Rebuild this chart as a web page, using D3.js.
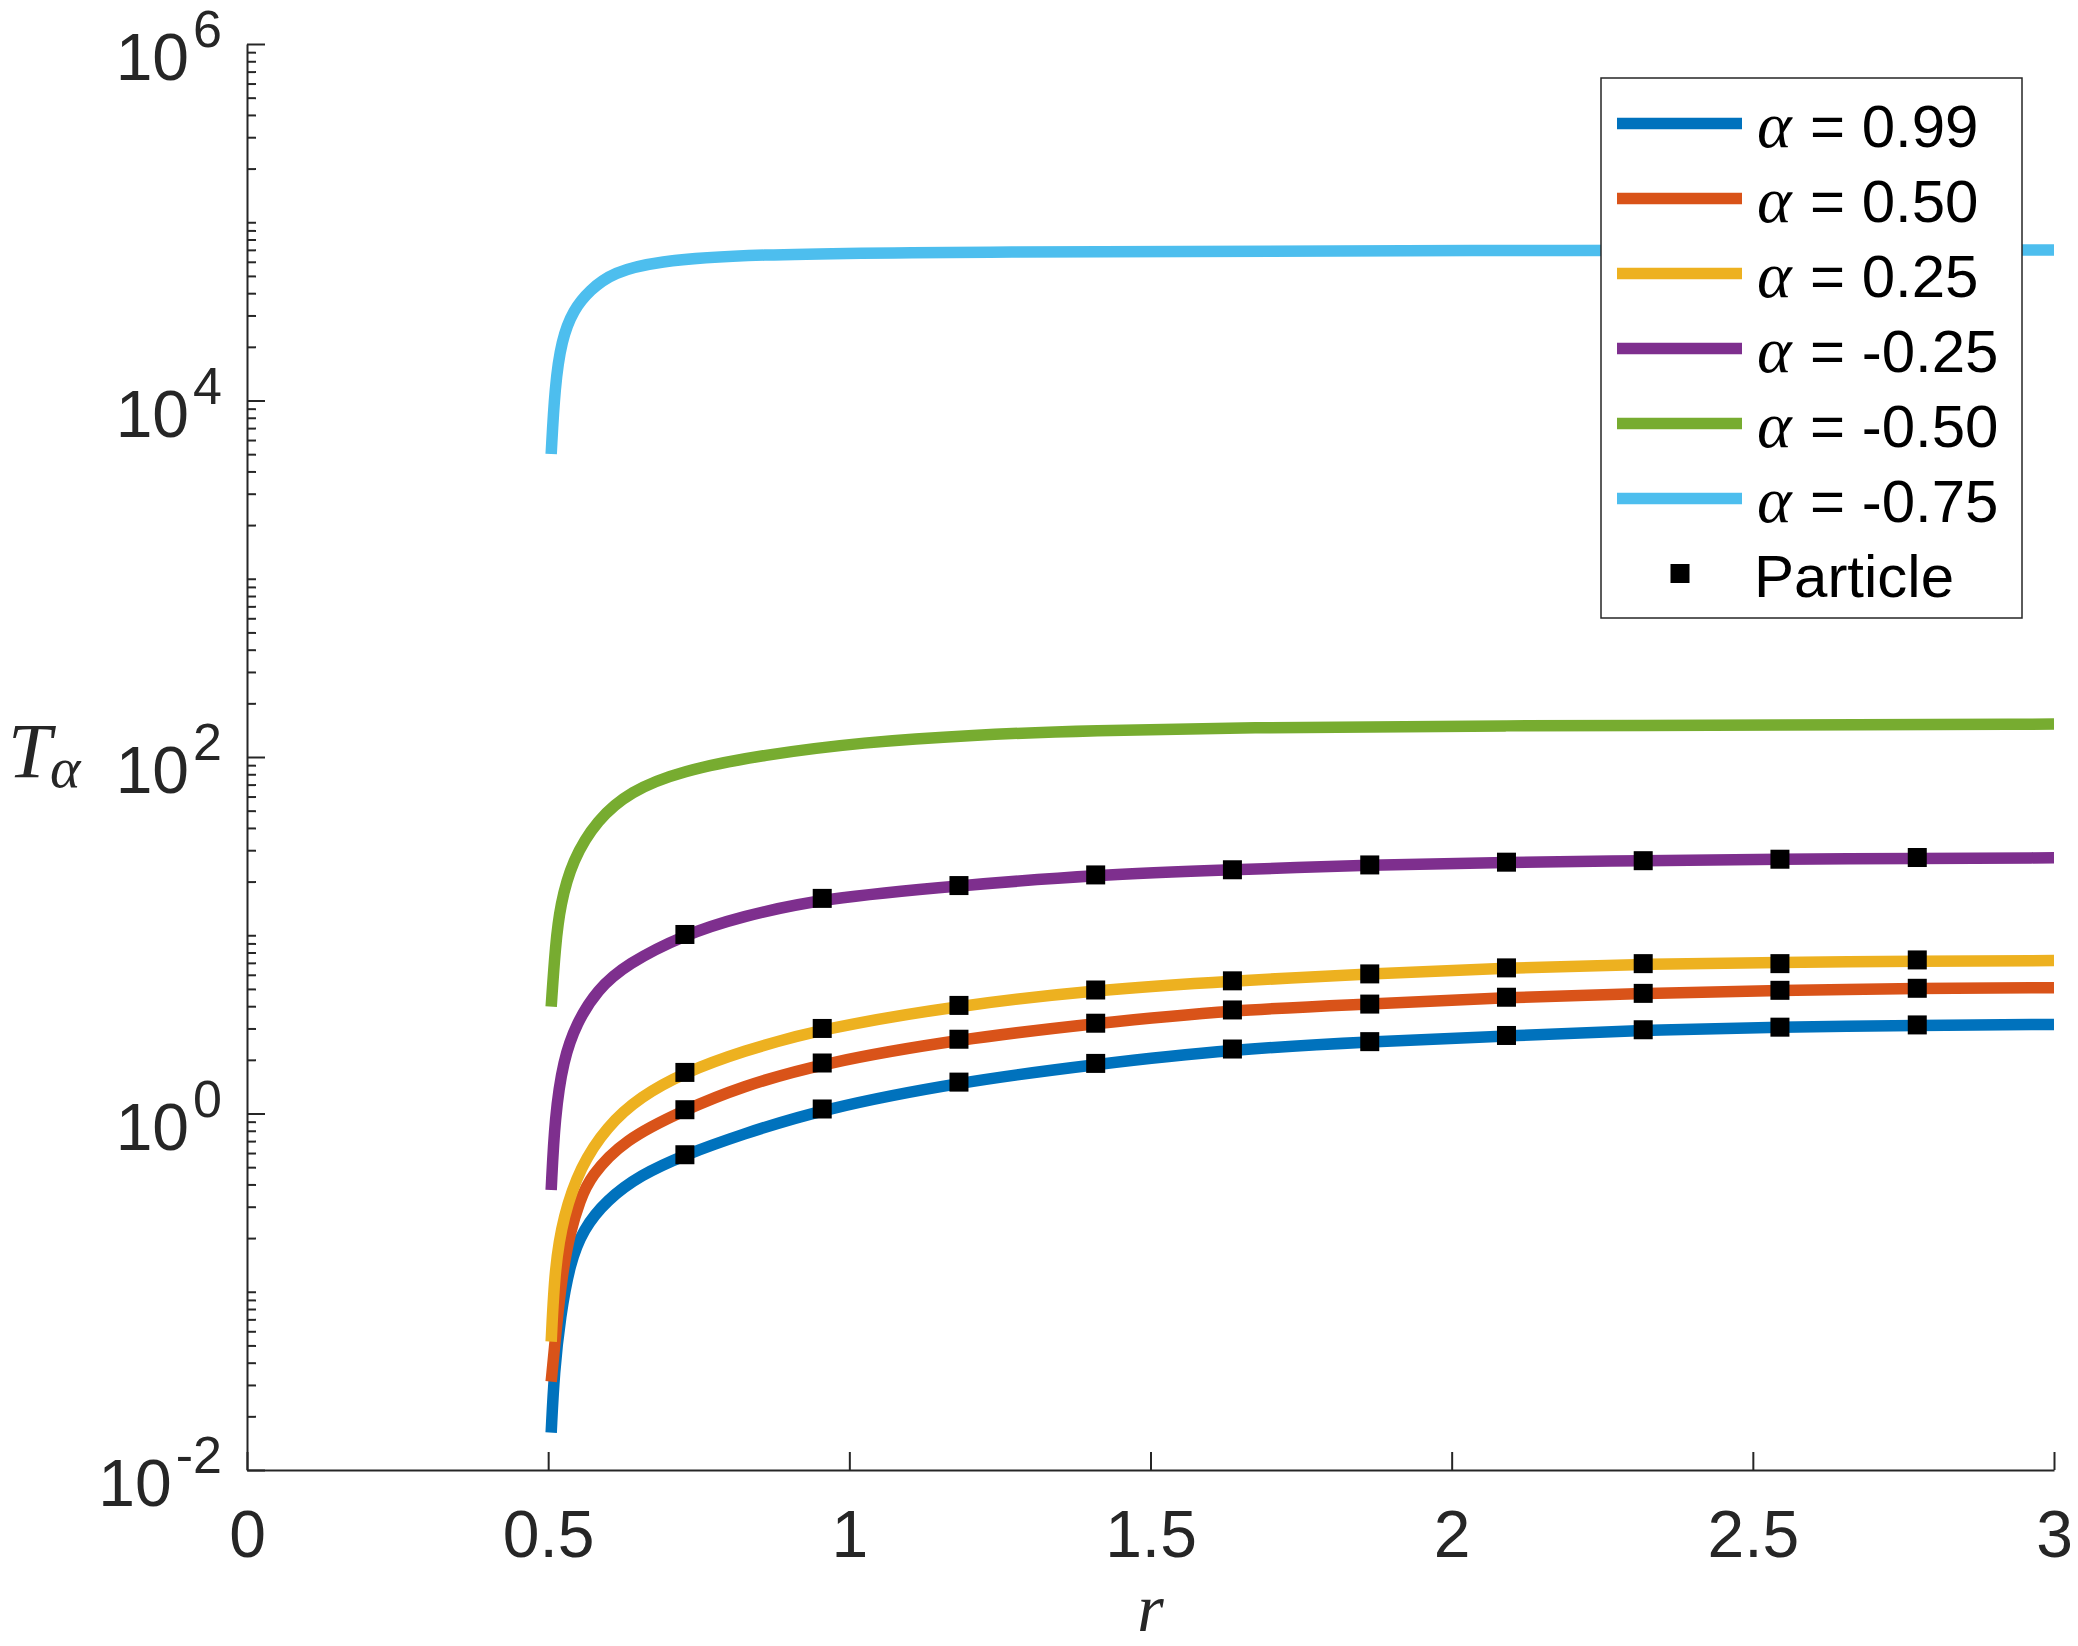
<!DOCTYPE html>
<html>
<head>
<meta charset="utf-8">
<script src="https://cdn.jsdelivr.net/npm/d3@7"></script>
<style>
body { margin: 0; background: #fff; }
</style>
</head>
<body>
<svg id="chart"></svg>
<script>
// curve samples: r and T for each alpha
var r099 = [0.505, 0.510, 0.520, 0.536, 0.558, 0.597, 0.653, 0.727, 0.819, 0.955, 1.182, 1.409, 1.636, 1.864, 2.091, 2.318, 2.545, 2.773, 3.0];
var T099 = [0.0162, 0.0355, 0.0724, 0.145, 0.224, 0.327, 0.452, 0.587, 0.759, 1.06, 1.50, 1.89, 2.29, 2.53, 2.72, 2.94, 3.05, 3.13, 3.16];

var r050 = [0.505, 0.514, 0.523, 0.536, 0.553, 0.570, 0.625, 0.727, 0.819, 0.955, 1.182, 1.409, 1.636, 1.864, 2.091, 2.318, 2.545, 2.773, 3.0];
var T050 = [0.0313, 0.0651, 0.124, 0.214, 0.327, 0.442, 0.710, 1.05, 1.41, 1.92, 2.61, 3.21, 3.81, 4.11, 4.49, 4.72, 4.91, 5.04, 5.08];

var r025 = [0.505, 0.511, 0.525, 0.553, 0.597, 0.653, 0.727, 0.819, 0.955, 1.182, 1.409, 1.636, 1.864, 2.091, 2.318, 2.545, 2.773, 3.0];
var T025 = [0.0525, 0.138, 0.264, 0.501, 0.843, 1.245, 1.70, 2.22, 3.0, 4.04, 4.93, 5.55, 6.07, 6.56, 6.89, 7.05, 7.16, 7.21];

var rm025 = [0.505, 0.511, 0.525, 0.547, 0.581, 0.630, 0.727, 0.819, 0.955, 1.182, 1.409, 1.636, 1.864, 2.091, 2.318, 2.545, 2.773, 3.0];
var Tm025 = [0.372, 0.959, 2.0, 3.21, 4.93, 6.9, 10.1, 12.7, 16.1, 19.0, 21.8, 23.3, 24.8, 25.7, 26.2, 26.7, 27.0, 27.2];

var rm050 = [0.505, 0.512, 0.520, 0.540, 0.581, 0.636, 0.719, 0.857, 1.023, 1.2, 1.409, 1.636, 2.091, 2.545, 3.0];
var Tm050 = [3.98, 8.8, 14.8, 26.3, 44.4, 64.1, 83.4, 103, 121, 133, 141, 146, 150, 151, 153];

var rm075 = [0.505, 0.511, 0.522, 0.542, 0.569, 0.608, 0.680, 0.819, 1.2, 2.0, 3.0];
var Tm075 = [5010, 11940, 21880, 32360, 41600, 52480, 60300, 66070, 68390, 69500, 69980];

// particle results
var rParticle = [0.727, 0.955, 1.182, 1.409, 1.636, 1.864, 2.091, 2.318, 2.545, 2.773];
var p099 = [0.587, 1.06, 1.50, 1.91, 2.30, 2.53, 2.74, 2.95, 3.05, 3.14];
var p050 = [1.05, 1.92, 2.61, 3.21, 3.81, 4.11, 4.49, 4.72, 4.91, 5.04];
var p025 = [1.70, 3.0, 4.04, 4.93, 5.55, 6.07, 6.56, 6.93, 6.93, 7.27];
var pm025 = [10.1, 16.1, 19.0, 21.8, 23.3, 24.8, 25.7, 26.2, 26.7, 27.3];

var alphaLabels = ['0.99', '0.50', '0.25', '-0.25', '-0.50', '-0.75'];
var colors = ['#0072BD', '#D95319', '#EDB120', '#7E2F8E', '#77AC30', '#4DBEEE'];

var xTicks = [0, 0.5, 1, 1.5, 2, 2.5, 3];
var xTickLabels = ['0', '0.5', '1', '1.5', '2', '2.5', '3'];
var yMajor = [1e-2, 1e0, 1e2, 1e4, 1e6];
var yExponents = ['-2', '0', '2', '4', '6'];

var svgWidth = 2078, svgHeight = 1646;
// plot box (window.top is read-only, so own names)
var plotLeft = 247, plotRight = 2054, plotTop = 44, plotBottom = 1470;
var axisColor = '#262626';
var sans = 'Liberation Sans, Arial, Helvetica, sans-serif';
var serif = 'Liberation Serif, Times New Roman, serif';

var svg = d3.select('#chart')
    .attr('width', svgWidth)
    .attr('height', svgHeight);

var x = d3.scaleLinear().domain([0, 3]).range([plotLeft, plotRight]);
var y = d3.scaleLog().domain([1e-2, 1e6]).range([plotBottom, plotTop]);

svg.append('clipPath').attr('id', 'plotclip')
    .append('rect')
    .attr('x', plotLeft).attr('y', plotTop)
    .attr('width', plotRight - plotLeft).attr('height', plotBottom - plotTop);

// minor ticks: 2..9 in every decade plus the unlabeled decades
var yMinor = [];
for (var d = -2; d < 6; d++) {
    for (var k = 2; k <= 9; k++) yMinor.push(k * Math.pow(10, d));
    if (d % 2 !== 0) yMinor.push(Math.pow(10, d));
}

var series = [
    { r: r099, T: T099 },
    { r: r050, T: T050 },
    { r: r025, T: T025 },
    { r: rm025, T: Tm025 },
    { r: rm050, T: Tm050 },
    { r: rm075, T: Tm075 }
];
var particles = [p099, p050, p025, pm025];

// b-spline through the read samples smooths out reading noise
var line = d3.line()
    .x(function(d) { return x(d[0]); })
    .y(function(d) { return y(d[1]); })
    .curve(d3.curveBasis);

var plot = svg.append('g').attr('clip-path', 'url(#plotclip)');

series.forEach(function(s, i) {
    var pts = s.r.map(function(rv, j) { return [rv, s.T[j]]; });
    plot.append('path')
        .attr('d', line(pts))
        .attr('fill', 'none')
        .attr('stroke', colors[i])
        .attr('stroke-width', 11.5)
        .attr('stroke-linejoin', 'round')
        .attr('stroke-linecap', 'butt');
});

particles.forEach(function(vals) {
    plot.selectAll(null).data(vals)
        .enter()
        .append('rect')
        .attr('x', function(d, i) { return x(rParticle[i]) - 9.5; })
        .attr('y', function(d) { return y(d) - 9.5; })
        .attr('width', 19)
        .attr('height', 19)
        .attr('fill', '#000');
});

// x axis, ticks pointing inward
var gx = svg.append('g')
    .attr('transform', 'translate(0,' + plotBottom + ')')
    .call(d3.axisBottom(x)
        .tickValues(xTicks)
        .tickFormat(function(d, i) { return xTickLabels[i]; })
        .tickSize(-18)
        .tickSizeOuter(0)
        .tickPadding(40));
gx.attr('font-size', 66).attr('font-family', sans);
gx.select('.domain').attr('stroke', axisColor).attr('stroke-width', 2);
gx.selectAll('.tick line').attr('stroke', axisColor).attr('stroke-width', 2);
gx.selectAll('.tick text').attr('fill', axisColor);

// y axis major and minor ticks
var gy = svg.append('g')
    .attr('transform', 'translate(' + plotLeft + ',0)')
    .call(d3.axisLeft(y)
        .tickValues(yMajor)
        .tickFormat('')
        .tickSize(-18)
        .tickSizeOuter(0));
gy.select('.domain').attr('stroke', axisColor).attr('stroke-width', 2);
gy.selectAll('.tick line').attr('stroke', axisColor).attr('stroke-width', 2);

var gyMinor = svg.append('g')
    .attr('transform', 'translate(' + plotLeft + ',0)')
    .call(d3.axisLeft(y)
        .tickValues(yMinor)
        .tickFormat('')
        .tickSize(-9)
        .tickSizeOuter(0));
gyMinor.select('.domain').remove();
gyMinor.selectAll('.tick line').attr('stroke', axisColor).attr('stroke-width', 2);

// y tick labels as 10^n
yMajor.forEach(function(v, i) {
    var t = svg.append('text')
        .attr('x', plotLeft - 25)
        .attr('y', y(v) + 36)
        .attr('text-anchor', 'end')
        .attr('font-family', sans)
        .attr('fill', axisColor);
    t.append('tspan').attr('font-size', 66).text('10');
    t.append('tspan').attr('font-size', 52).attr('dy', -33).attr('dx', 4).text(yExponents[i]);
});

// axis labels
var yl = svg.append('text')
    .attr('x', 8)
    .attr('y', 777)
    .attr('font-family', serif)
    .attr('font-style', 'italic')
    .attr('fill', axisColor);
yl.append('tspan').attr('font-size', 78).text('T');
yl.append('tspan').attr('x', 50).attr('dy', 10).attr('font-size', 58).text('α');

svg.append('text')
    .attr('x', (plotLeft + plotRight) / 2)
    .attr('y', 1631)
    .attr('text-anchor', 'middle')
    .attr('font-family', serif)
    .attr('font-style', 'italic')
    .attr('font-size', 68)
    .attr('fill', axisColor)
    .text('r');

// legend
var lg = svg.append('g');
lg.append('rect')
    .attr('x', 1601).attr('y', 78)
    .attr('width', 421).attr('height', 540)
    .attr('fill', '#fff')
    .attr('stroke', axisColor)
    .attr('stroke-width', 1.5);

var rowY = function(i) { return 123.5 + i * 75; };

alphaLabels.forEach(function(lab, i) {
    var cy = rowY(i);
    lg.append('line')
        .attr('x1', 1617).attr('x2', 1742)
        .attr('y1', cy).attr('y2', cy)
        .attr('stroke', colors[i])
        .attr('stroke-width', 11.5);
    var t = lg.append('text')
        .attr('y', cy + 23)
        .attr('fill', '#000');
    t.append('tspan')
        .attr('x', 1757)
        .attr('font-family', serif)
        .attr('font-style', 'italic')
        .attr('font-size', 66)
        .text('α');
    t.append('tspan')
        .attr('x', 1810)
        .attr('font-family', sans)
        .attr('font-size', 60)
        .text('= ' + lab);
});

var py = rowY(6);
lg.append('rect')
    .attr('x', 1680 - 9.5).attr('y', py - 9.5)
    .attr('width', 19).attr('height', 19)
    .attr('fill', '#000');
lg.append('text')
    .attr('x', 1754)
    .attr('y', py + 23)
    .attr('font-family', sans)
    .attr('font-size', 60)
    .attr('fill', '#000')
    .text('Particle');
</script>
</body>
</html>
